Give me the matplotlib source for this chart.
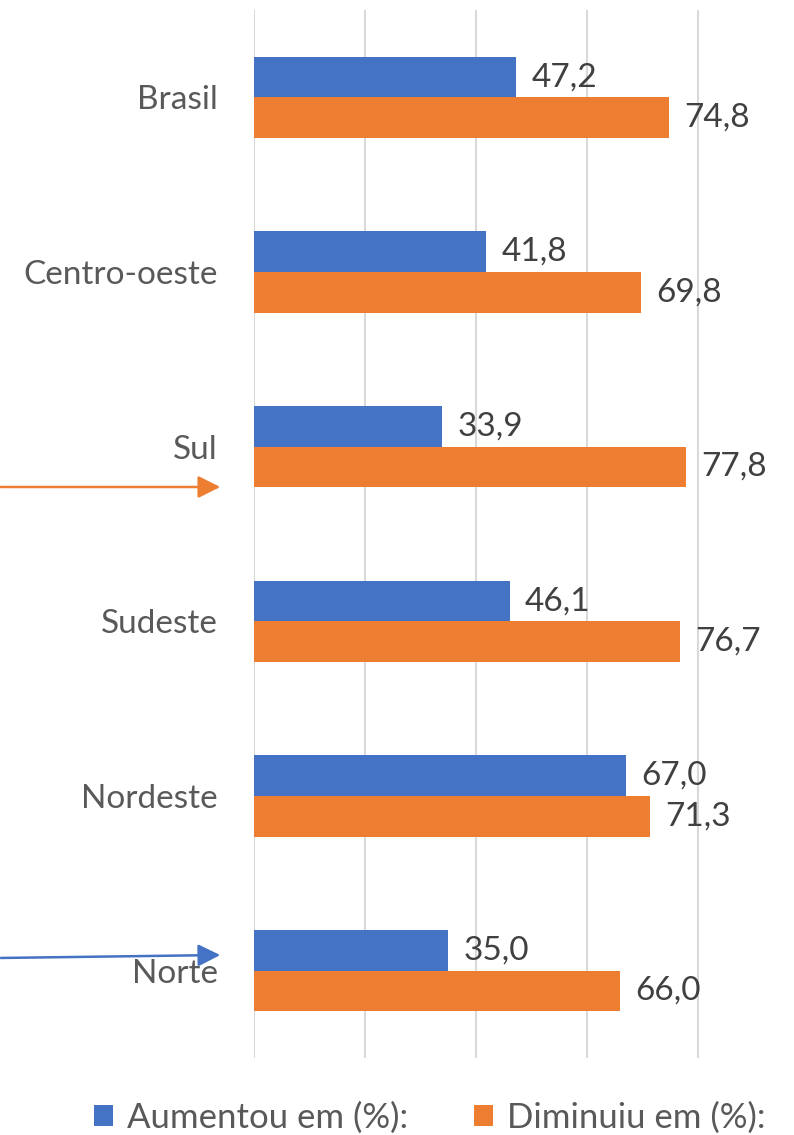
import matplotlib
matplotlib.use("Agg")
import matplotlib.pyplot as plt
import numpy as np
from matplotlib.patches import FancyArrowPatch

plt.rcParams['font.family'] = ['Lato', 'DejaVu Sans']

categories = ["Brasil", "Centro-oeste", "Sul", "Sudeste", "Nordeste", "Norte"]
aumentou = [47.2, 41.8, 33.9, 46.1, 67.0, 35.0]
diminuiu = [74.8, 69.8, 77.8, 76.7, 71.3, 66.0]
series_names = ["Aumentou em (%):", "Diminuiu em (%):"]
xticks = [0, 20, 40, 60, 80]

blue = "#4472C4"
orange = "#ED7D31"

W, H = 794, 1135
fig = plt.figure(figsize=(W/100, H/100), dpi=100)
left = 254 / W
right = 790 / W
bottom = 1 - 1058 / H
top = 1 - 10 / H
ax = fig.add_axes([left, bottom, right - left, top - bottom])

n = len(categories)
y = np.arange(n)
h = 0.232
b1 = ax.barh(y - h/2, aumentou, height=h, color=blue, label=series_names[0], zorder=3)
b2 = ax.barh(y + h/2, diminuiu, height=h, color=orange, label=series_names[1], zorder=3)

xmax = (790 - 254) / ((698 - 254) / 80)
ax.set_xlim(0, xmax)
ax.set_ylim(n - 0.5, -0.5)
ax.set_xticks(xticks)
ax.set_xticklabels([])
ax.tick_params(axis='x', length=0)
ax.tick_params(axis='y', length=0, pad=26, labelsize=24, labelcolor="#595959")
ax.set_yticks(y)
ax.set_yticklabels(categories)
ax.grid(axis='x', color="#D9D9D9", linewidth=1.5, zorder=0)
for s in ax.spines.values():
    s.set_visible(False)

fmt = lambda v: f"{v:.1f}".replace(".", ",")
for bars, vals in ((b1, aumentou), (b2, diminuiu)):
    ax.bar_label(bars, labels=[fmt(v) for v in vals], padding=11, fontsize=24, color="#404040")

# Arrows (figure pixel coords)
def arrow(x0, y0, x1, y1, color):
    p = FancyArrowPatch((x0 / W, 1 - y0 / H), (x1 / W, 1 - y1 / H),
                        transform=fig.transFigure, arrowstyle='-|>,head_length=9,head_width=4.5',
                        color=color, linewidth=1.8, mutation_scale=1.5)
    fig.patches.append(p)

arrow(-2, 487, 223, 487, orange)
arrow(-2, 958, 223, 955, blue)

leg = fig.legend(handles=[b1, b2], labels=series_names, loc='center',
                 bbox_to_anchor=(430 / W, 1 - 1118 / H), ncol=2, frameon=False,
                 fontsize=25, handlelength=0.55, handleheight=0.55, handletextpad=0.4,
                 columnspacing=1.9, labelcolor="#595959")

fig.savefig("out.png", dpi=100)
